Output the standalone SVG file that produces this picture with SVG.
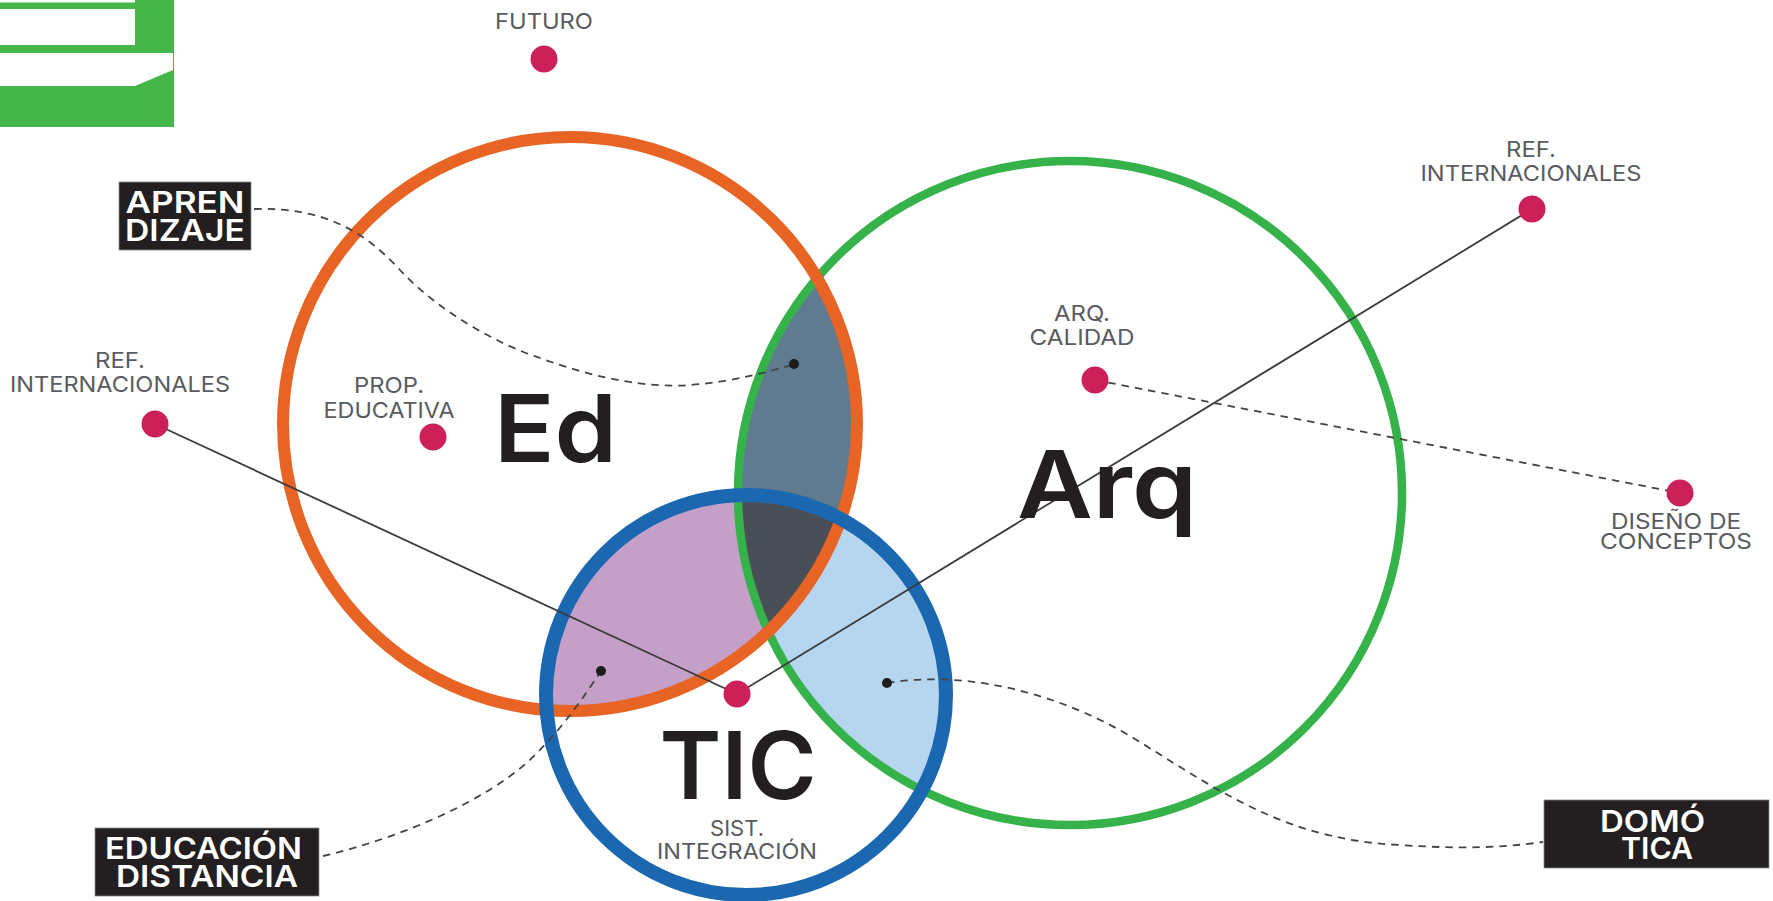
<svg xmlns="http://www.w3.org/2000/svg" width="1773" height="901" viewBox="0 0 1773 901">
<style>
text{font-family:"Inter","Liberation Sans",sans-serif;text-anchor:middle}
.lb{font-size:22px;fill:#5a5b5f;font-weight:400}
.big{font-size:93px;fill:#231f20;font-weight:600}
.bx{font-size:30px;fill:#fff;font-weight:600}
.box{fill:#231f20;stroke:#8a8a8a;stroke-width:.8}
.dot{fill:#cb2058}
.pt{fill:#1c1c1c}
.ring{fill:none}
.solid{fill:none;stroke:#3c3c3c;stroke-width:1.8}
.dash{fill:none;stroke:#444;stroke-width:1.8;stroke-dasharray:7.5 6}
</style>
<defs>
<clipPath id="cEd"><circle cx="570" cy="424" r="287"/></clipPath>
<clipPath id="cArq"><circle cx="1070" cy="493" r="332"/></clipPath>
<clipPath id="cTic"><circle cx="746" cy="695" r="200"/></clipPath>
</defs>
<rect width="1773" height="901" fill="#fff"/>
<g id="logo">
<rect x="0" y="0" width="174" height="127" fill="#45b649"/>
<rect x="0" y="0" width="135" height="2.5" fill="#fff"/>
<rect x="0" y="9" width="135" height="36" fill="#fff"/>
<polygon points="0,53 173,53 173,70 135,86 0,86" fill="#fff"/>
</g>
<g id="regions">
<g clip-path="url(#cEd)"><circle cx="1070" cy="493" r="332" fill="#607a90"/></g>
<g clip-path="url(#cTic)">
<circle cx="570" cy="424" r="287" fill="#c4a0c9"/>
<circle cx="1070" cy="493" r="332" fill="#b6d6f0"/>
<g clip-path="url(#cEd)"><circle cx="1070" cy="493" r="332" fill="#4a4f57"/></g>
</g>
</g>
<g id="circles">
<circle id="ring-arq" class="ring" cx="1070" cy="493" r="332" stroke="#35b34a" stroke-width="8.5"/>
<circle id="ring-ed" class="ring" cx="570" cy="424" r="287" stroke="#e76425" stroke-width="12"/>
<circle id="ring-tic" class="ring" cx="746" cy="695" r="200" stroke="#1b68b1" stroke-width="14"/>
</g>
<g id="connectors">
<line class="solid" x1="155" y1="424" x2="737" y2="694"/>
<line class="solid" x1="737" y1="694" x2="1532" y2="209"/>
<path class="dash" d="M254 209C325 207 365 232 400 270C440 313 500 345 540 358C600 380 650 388 690 385C730 382 770 372 794 364"/>
<path class="dash" d="M323 856C400 838 490 800 535 755C565 725 585 695 601 671"/>
<path class="dash" d="M887 683C965 670 1060 692 1140 742C1225 795 1290 840 1400 845C1460 849 1500 848 1543 842"/>
<line class="dash" x1="1095" y1="380" x2="1680" y2="493"/>
</g>
<g id="node-futuro"><circle class="dot" cx="544" cy="59" r="13.5"/><text class="lb" x="544" y="29" textLength="98" lengthAdjust="spacingAndGlyphs">FUTURO</text></g>
<g id="node-aprendizaje"><rect class="box" x="119" y="182" width="132" height="68"/><text class="bx" x="185" y="213" textLength="119" lengthAdjust="spacingAndGlyphs">APREN</text><text class="bx" x="185" y="241" textLength="120" lengthAdjust="spacingAndGlyphs">DIZAJE</text></g>
<g id="node-ref-left"><circle class="dot" cx="155" cy="424" r="13.5"/><text class="lb" x="120" y="368" textLength="50" lengthAdjust="spacingAndGlyphs">REF.</text><text class="lb" x="120" y="392" textLength="220" lengthAdjust="spacingAndGlyphs">INTERNACIONALES</text></g>
<g id="node-prop"><circle class="dot" cx="433" cy="437" r="13.5"/><text class="lb" x="389" y="393" textLength="70" lengthAdjust="spacingAndGlyphs">PROP.</text><text class="lb" x="389" y="418" textLength="131" lengthAdjust="spacingAndGlyphs">EDUCATIVA</text></g>
<g id="node-ed"><text class="big" x="555.500" y="462" textLength="123" lengthAdjust="spacingAndGlyphs">Ed</text></g>
<g id="node-arq"><text class="big" x="1107" y="518" textLength="180" lengthAdjust="spacingAndGlyphs">Arq</text></g>
<g id="node-tic"><text class="big" x="738" y="799" textLength="157" lengthAdjust="spacingAndGlyphs">TIC</text></g>
<g id="node-sist"><circle class="dot" cx="737" cy="694" r="13.5"/><text class="lb" x="737" y="836">SIST.</text><text class="lb" x="737" y="859" textLength="160" lengthAdjust="spacingAndGlyphs">INTEGRACIÓN</text></g>
<g id="node-ref-right"><circle class="dot" cx="1532" cy="209" r="13.5"/><text class="lb" x="1531" y="157" textLength="50" lengthAdjust="spacingAndGlyphs">REF.</text><text class="lb" x="1531" y="181" textLength="221" lengthAdjust="spacingAndGlyphs">INTERNACIONALES</text></g>
<g id="node-calidad"><circle class="dot" cx="1095" cy="380" r="13.5"/><text class="lb" x="1082" y="321" textLength="56" lengthAdjust="spacingAndGlyphs">ARQ.</text><text class="lb" x="1082" y="345" textLength="105" lengthAdjust="spacingAndGlyphs">CALIDAD</text></g>
<g id="node-diseno"><circle class="dot" cx="1680" cy="493" r="13.5"/><text class="lb" x="1676" y="529" textLength="130" lengthAdjust="spacingAndGlyphs">DISEÑO DE</text><text class="lb" x="1676" y="549" textLength="152" lengthAdjust="spacingAndGlyphs">CONCEPTOS</text></g>
<g id="node-educacion"><rect class="box" x="95" y="828" width="224" height="68"/><text class="bx" x="203.500" y="859" textLength="197" lengthAdjust="spacingAndGlyphs">EDUCACIÓN</text><text class="bx" x="207" y="887" textLength="182" lengthAdjust="spacingAndGlyphs">DISTANCIA</text></g>
<g id="node-domotica"><rect class="box" x="1544" y="800" width="225" height="68"/><text class="bx" x="1652.500" y="832" textLength="105" lengthAdjust="spacingAndGlyphs">DOMÓ</text><text class="bx" x="1657" y="859" textLength="72" lengthAdjust="spacingAndGlyphs">TICA</text></g>
<g id="points"><circle class="pt" cx="794" cy="364" r="5"/><circle class="pt" cx="601" cy="671" r="5"/><circle class="pt" cx="887" cy="683" r="5"/></g>
</svg>
